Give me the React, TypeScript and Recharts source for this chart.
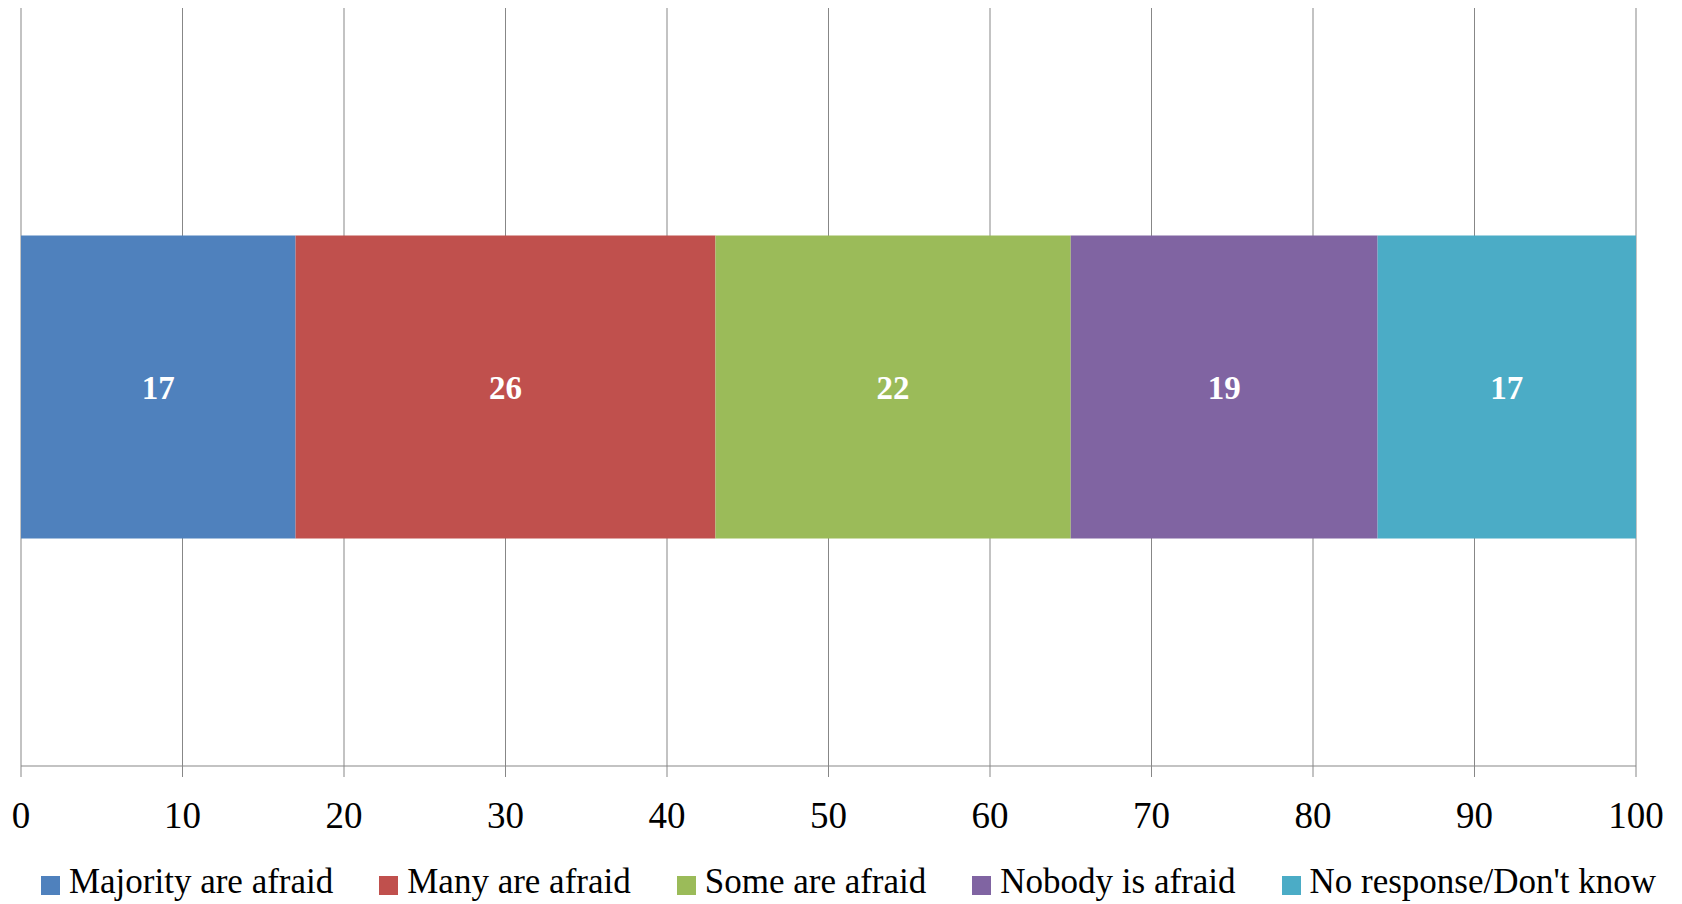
import { Bar, BarChart, CartesianGrid, LabelList, Legend, XAxis, YAxis } from "recharts";

const categories = ["Survey"];
const seriesNames = [
  "Majority are afraid",
  "Many are afraid",
  "Some are afraid",
  "Nobody is afraid",
  "No response/Don't know",
];
const seriesKeys = ["majority", "many", "some", "nobody", "noResponse"];
const seriesValues = [17, 26, 22, 19, 17];
const seriesColors = ["#4F81BD", "#C0504D", "#9BBB59", "#8064A2", "#4BACC6"];
const xTicks = [0, 10, 20, 30, 40, 50, 60, 70, 80, 90, 100];

const data = categories.map((name) => {
  const row: Record<string, string | number> = { name };
  seriesKeys.forEach((k, i) => {
    row[k] = seriesValues[i];
  });
  return row;
});

const FONT = "'Liberation Serif', 'Times New Roman', serif";
const GRID = "#878787";

function LegendRow() {
  return (
    <div
      style={{
        display: "flex",
        justifyContent: "center",
        alignItems: "center",
        gap: 46,
        paddingTop: 26,
        paddingLeft: 40,
        fontFamily: FONT,
        fontSize: 35,
        color: "#000",
        whiteSpace: "nowrap",
      }}
    >
      {seriesNames.map((n, i) => (
        <div key={n} style={{ display: "flex", alignItems: "center" }}>
          <span
            style={{
              display: "inline-block",
              width: 19,
              height: 19,
              background: seriesColors[i],
              marginRight: 9,
              marginTop: 6,
            }}
          />
          <span>{n}</span>
        </div>
      ))}
    </div>
  );
}

export default function App() {
  return (
    <div style={{ position: "absolute", left: 0, top: 0, width: 1682, height: 904, background: "#fff" }}>
      <BarChart
        width={1682}
        height={904}
        data={data}
        layout="vertical"
        margin={{ top: 8, right: 46, bottom: 0, left: 21 }}
        barCategoryGap="30%"
      >
        <CartesianGrid horizontal={false} stroke={GRID} strokeWidth={1} />
        <XAxis
          type="number"
          domain={[0, 100]}
          ticks={xTicks}
          allowDataOverflow
          interval={0}
          height={70}
          tickSize={11}
          tickMargin={25}
          axisLine={{ stroke: GRID }}
          tickLine={{ stroke: GRID }}
          tick={{ fontFamily: FONT, fontSize: 37, fill: "#000" }}
        />
        <YAxis type="category" dataKey="name" hide />
        <YAxis
          yAxisId="frame"
          type="number"
          domain={[0, 1]}
          ticks={[0, 1]}
          width={0}
          tick={false}
          tickSize={12}
          axisLine={{ stroke: GRID }}
          tickLine={{ stroke: GRID }}
        />
        <Legend verticalAlign="bottom" height={68} content={() => <LegendRow />} />
        {seriesKeys.map((k, i) => (
          <Bar
            key={k}
            dataKey={k}
            name={seriesNames[i]}
            stackId="a"
            fill={seriesColors[i]}
            isAnimationActive={false}
          >
            <LabelList
              dataKey={k}
              position="center"
              fill="#fff"
              style={{ fontFamily: FONT, fontSize: 33, fontWeight: "bold" }}
            />
          </Bar>
        ))}
      </BarChart>
    </div>
  );
}
